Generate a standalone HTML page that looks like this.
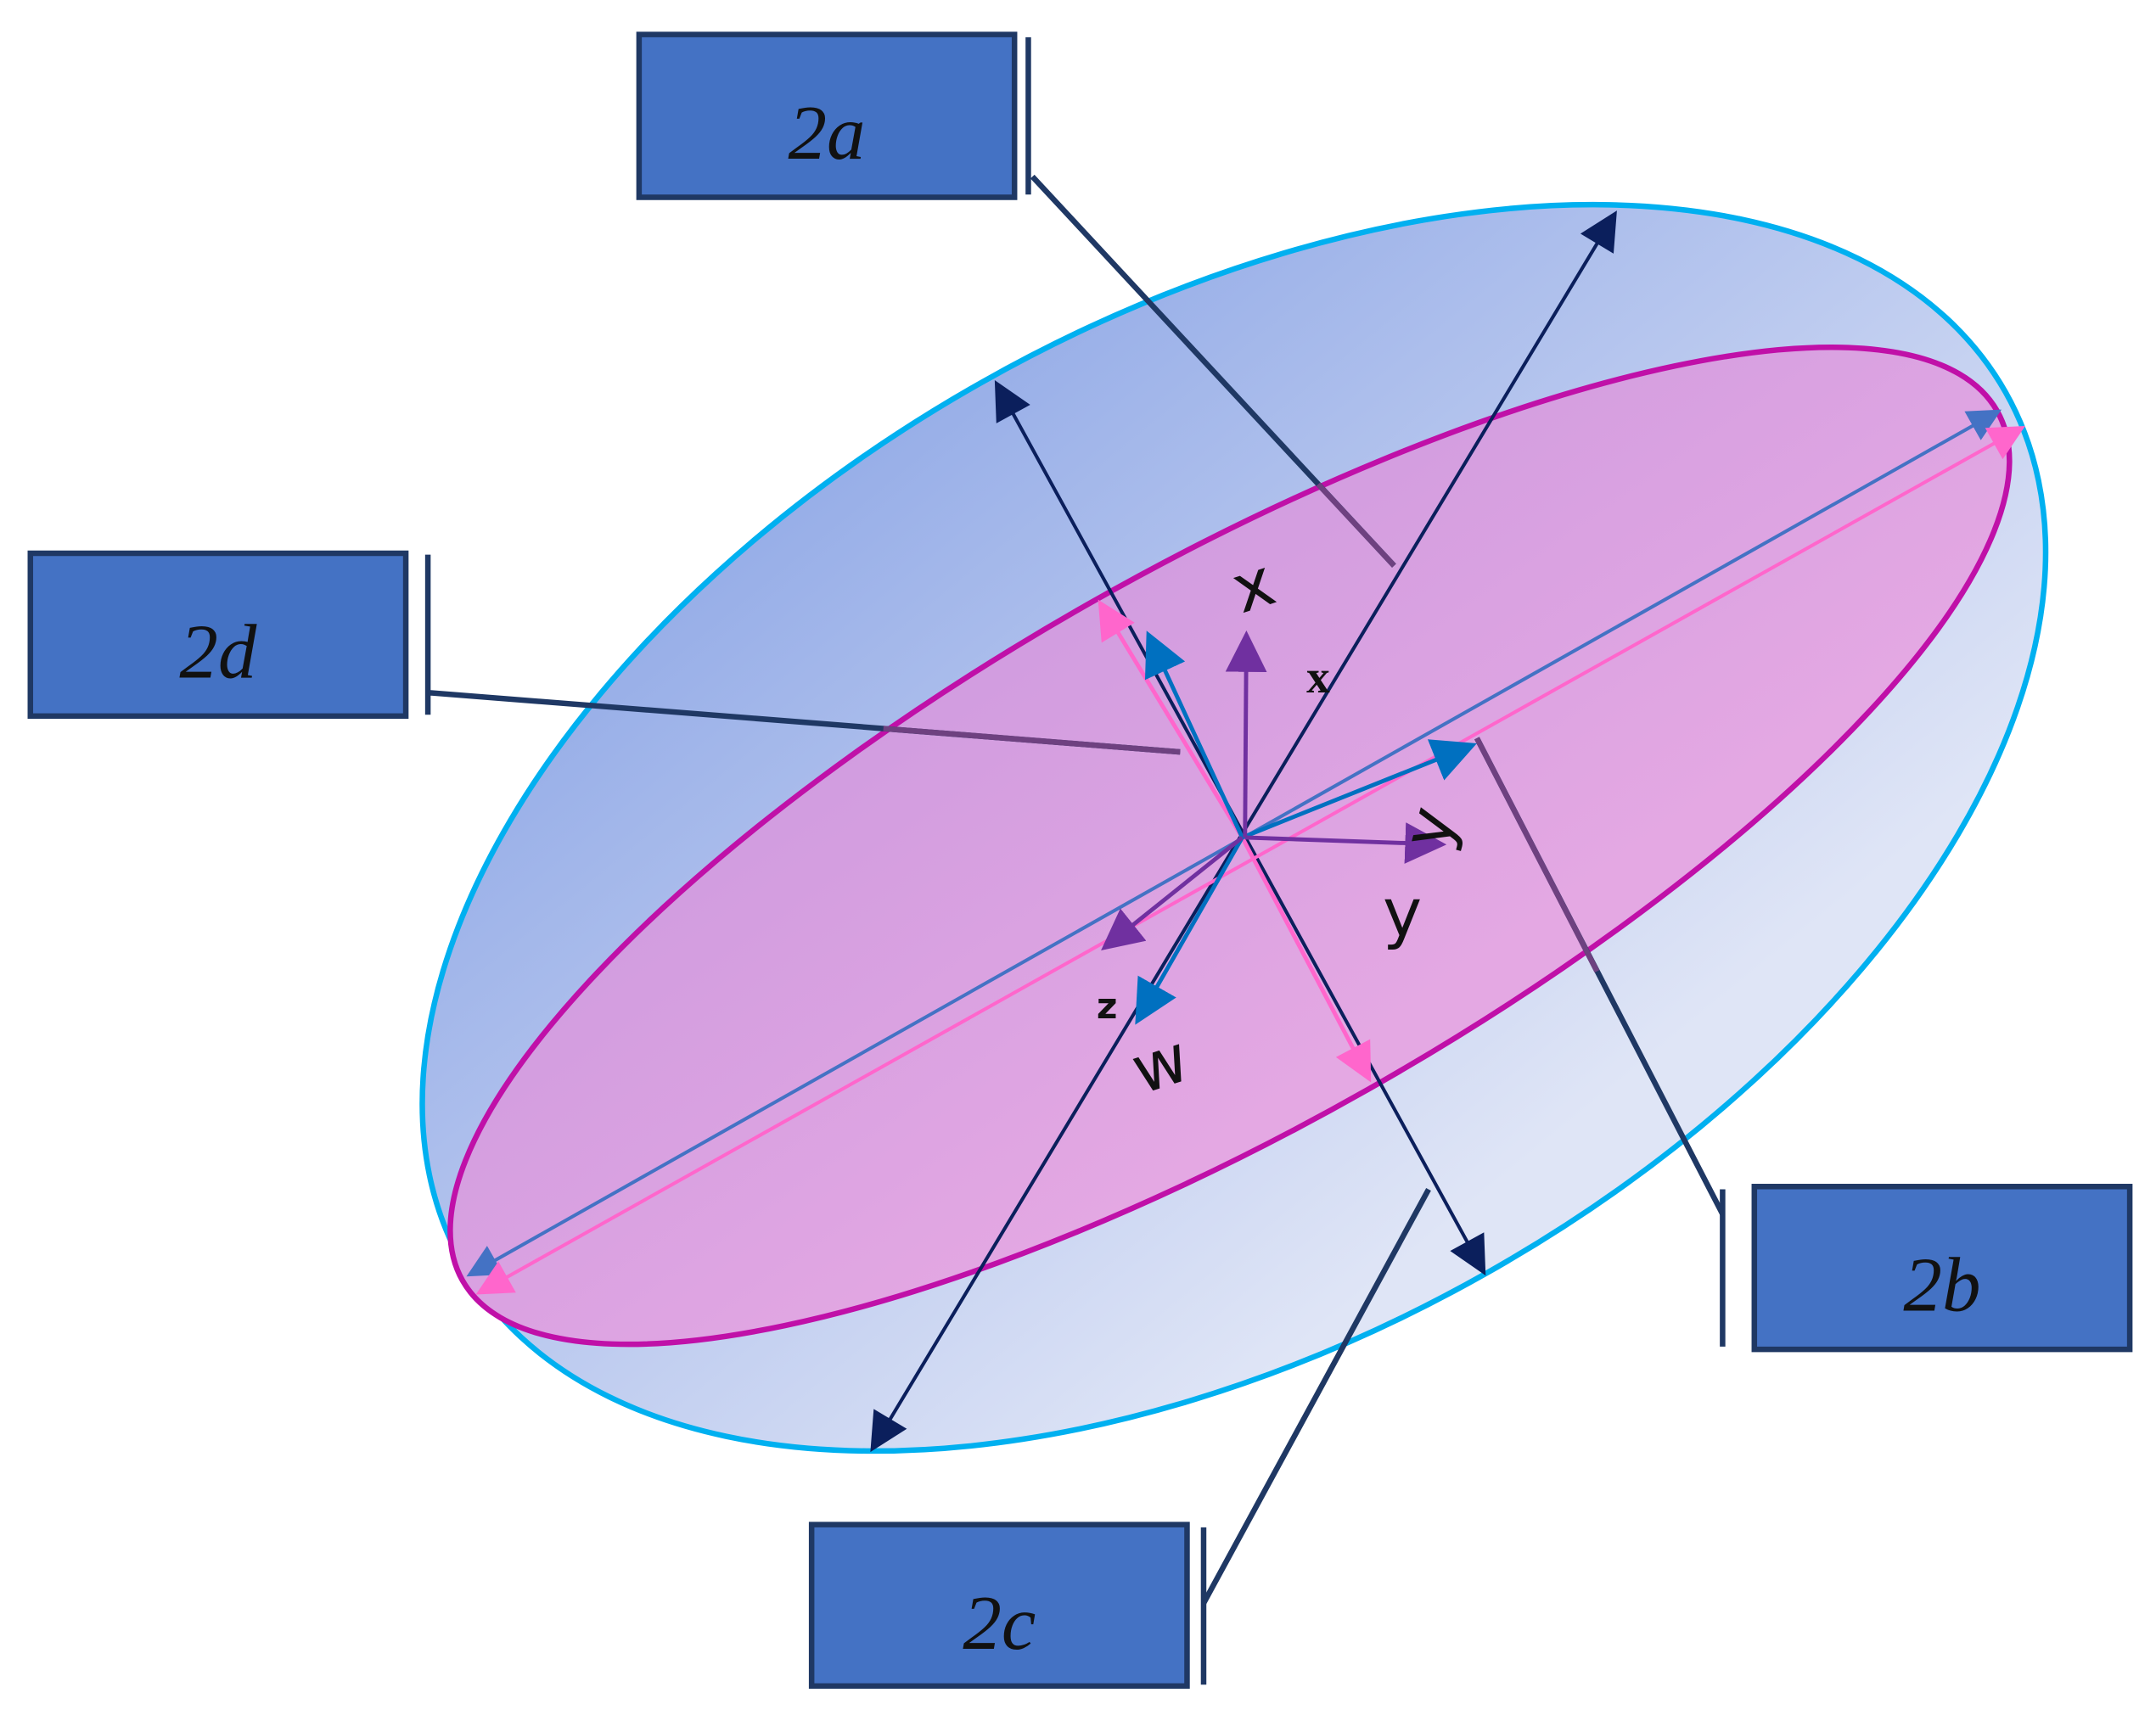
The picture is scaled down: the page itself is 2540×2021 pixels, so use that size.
<!DOCTYPE html>
<html><head><meta charset="utf-8"><style>
html,body{margin:0;padding:0;background:#fff;}
svg{display:block;}
</style></head><body>
<svg width="2540" height="2021" viewBox="0 0 1562 1243" preserveAspectRatio="none" xmlns="http://www.w3.org/2000/svg">
<defs>
<linearGradient id="g1" x1="0" y1="0" x2="0.3" y2="1">
<stop offset="0" stop-color="#8ea7e6"/><stop offset="1" stop-color="#dfe5f6"/>
</linearGradient>
<linearGradient id="g2" x1="0" y1="0" x2="0.3" y2="1">
<stop offset="0" stop-color="#cf9bdf"/><stop offset="1" stop-color="#e4a8e3"/>
</linearGradient>
<marker id="mN" viewBox="0 0 10 10" refX="9" refY="5" markerWidth="32" markerHeight="28" markerUnits="userSpaceOnUse" orient="auto-start-reverse"><path d="M0,0L10,5L0,10z" fill="#0b1f5c"/></marker>
<marker id="mB" viewBox="0 0 10 10" refX="9" refY="5" markerWidth="28" markerHeight="24" markerUnits="userSpaceOnUse" orient="auto-start-reverse"><path d="M0,0L10,5L0,10z" fill="#4472c4"/></marker>
<marker id="mP" viewBox="0 0 10 10" refX="9" refY="5" markerWidth="28" markerHeight="26" markerUnits="userSpaceOnUse" orient="auto-start-reverse"><path d="M0,0L10,5L0,10z" fill="#ff66cc"/></marker>
<marker id="mC" viewBox="0 0 10 10" refX="9" refY="5" markerWidth="32" markerHeight="32" markerUnits="userSpaceOnUse" orient="auto"><path d="M0,0L10,5L0,10z" fill="#0070c0"/></marker>
<marker id="mV" viewBox="0 0 10 10" refX="9" refY="5" markerWidth="30" markerHeight="30" markerUnits="userSpaceOnUse" orient="auto"><path d="M0,0L10,5L0,10z" fill="#7030a0"/></marker>
<marker id="mQ" viewBox="0 0 10 10" refX="9" refY="5" markerWidth="30" markerHeight="28" markerUnits="userSpaceOnUse" orient="auto"><path d="M0,0L10,5L0,10z" fill="#ff66cc"/></marker>
</defs>

<ellipse cx="894" cy="600" rx="642" ry="371" transform="rotate(-29.45 894 600)" fill="url(#g1)" stroke="#00b0f0" stroke-width="4"/>

<ellipse cx="891" cy="613" rx="639" ry="203" transform="rotate(-29.55 891 613)" fill="url(#g2)" stroke="#c010a8" stroke-width="4"/>

<g stroke="#1f3864" stroke-width="4" fill="none">
<line x1="748" y1="128" x2="1010" y2="410"/>
<line x1="310" y1="502" x2="855" y2="545"/>
<line x1="1248" y1="880" x2="1070" y2="535"/>
<line x1="872" y1="1162" x2="1035" y2="862"/>
</g>
<g stroke="#6e4180" stroke-width="4" fill="none">
<line x1="955" y1="351" x2="1010" y2="410"/>
<line x1="640" y1="528" x2="855" y2="545"/>
<line x1="1070" y1="535" x2="1157" y2="704"/>
</g>

<line x1="632" y1="1050" x2="1170" y2="155" stroke="#0b1f5c" stroke-width="2.5" marker-start="url(#mN)" marker-end="url(#mN)"/>
<line x1="722" y1="278" x2="1075" y2="922" stroke="#0b1f5c" stroke-width="2.5" marker-start="url(#mN)" marker-end="url(#mN)"/>
<line x1="340" y1="924" x2="1448" y2="298" stroke="#4472c4" stroke-width="2.5" marker-start="url(#mB)" marker-end="url(#mB)"/>
<line x1="347" y1="937" x2="1465" y2="310" stroke="#ff66cc" stroke-width="2.5" marker-start="url(#mP)" marker-end="url(#mP)"/>

<g stroke-width="3">
<line x1="900" y1="607" x2="797" y2="437" stroke="#ff66cc" marker-end="url(#mQ)"/>
<line x1="900" y1="607" x2="992" y2="782" stroke="#ff66cc" marker-end="url(#mQ)"/>
<line x1="900" y1="607" x2="832" y2="460" stroke="#0070c0" marker-end="url(#mC)"/>
<line x1="900" y1="607" x2="1067" y2="540" stroke="#0070c0" marker-end="url(#mC)"/>
<line x1="900" y1="607" x2="824" y2="740" stroke="#0070c0" marker-end="url(#mC)"/>
<line x1="902" y1="607" x2="903" y2="460" stroke="#7030a0" marker-end="url(#mV)"/>
<line x1="902" y1="607" x2="1045" y2="612" stroke="#7030a0" marker-end="url(#mV)"/>
<line x1="900" y1="607" x2="800" y2="687" stroke="#7030a0" marker-end="url(#mV)"/>
</g>

<g font-family="DejaVu Sans, sans-serif" fill="#111" font-size="48">
<text x="908" y="441" transform="rotate(-18 908 425)" text-anchor="middle">x</text>
<text x="955" y="502" font-family="Liberation Serif, serif" font-weight="bold" font-size="34" text-anchor="middle">x</text>
<text x="1036" y="616" transform="rotate(-75 1036 600)" text-anchor="middle">y</text>
<text x="1016" y="678" text-anchor="middle">y</text>
<text x="840" y="788" transform="rotate(-18 840 770)" text-anchor="middle">w</text>
<text x="802" y="738" font-size="26" text-anchor="middle" font-weight="bold">z</text>
</g>

<g fill="#4472c4" stroke="#1f3864" stroke-width="4">
<rect x="463" y="25" width="272" height="118"/>
<rect x="22" y="401" width="272" height="118"/>
<rect x="1271" y="860" width="272" height="118"/>
<rect x="588" y="1105" width="272" height="117"/>
</g>
<g stroke="#1f3864" stroke-width="4">
<line x1="745" y1="27" x2="745" y2="141"/>
<line x1="310" y1="402" x2="310" y2="518"/>
<line x1="1248" y1="862" x2="1248" y2="976"/>
<line x1="872" y1="1107" x2="872" y2="1221"/>
</g>
<g font-family="Liberation Serif, serif" font-style="italic" font-size="56" fill="#111" text-anchor="middle">
<text x="599" y="115">2a</text>
<text x="158" y="491">2d</text>
<text x="1407" y="950">2b</text>
<text x="724" y="1195">2c</text>
</g>
</svg>
</body></html>
